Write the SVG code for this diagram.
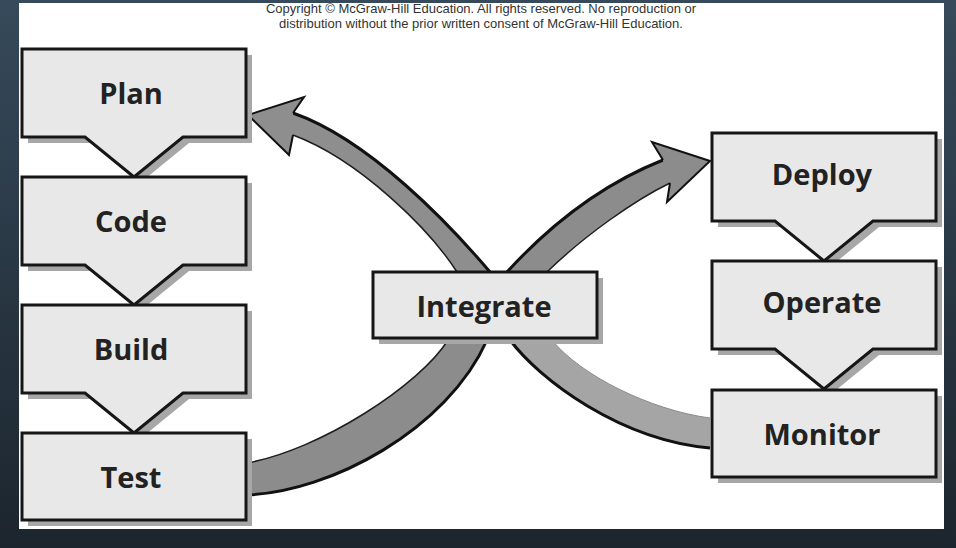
<svg xmlns="http://www.w3.org/2000/svg" width="956" height="548" viewBox="0 0 956 548">
  <defs>
    <linearGradient id="bg" x1="0" y1="0" x2="0" y2="1">
      <stop offset="0" stop-color="#364a5b"/>
      <stop offset="1" stop-color="#1c252d"/>
    </linearGradient>
    <path id="pent" d="M0,0 H224 V88 H161 L112,128 L63,88 H0 Z"/>
    <path id="rectb" d="M0,0 H224 V87 H0 Z"/>
    <style>
      .shadow { fill: #a7a7a7; }
      .box { fill: #e8e8e8; stroke: #161616; stroke-width: 3; stroke-linejoin: miter; }
      .lbl { font-family: "Open Sans", "Liberation Sans", Arial, sans-serif; font-weight: 700; font-size: 29px; fill: #222222; text-anchor: middle; }
      .copy { font-family: "Liberation Sans", Arial, sans-serif; font-size: 13px; fill: #333333; text-anchor: middle; }
      .shaft { stroke: none; }
      .edgeThick { fill: none; stroke: #111111; stroke-width: 3; stroke-linejoin: round; }
      .edgeThin { fill: none; stroke: #1e1e1e; stroke-width: 1.5; stroke-linejoin: round; }
      .head { stroke: #111111; stroke-width: 2; stroke-linejoin: miter; }
    </style>
  </defs>

  <rect x="0" y="0" width="956" height="548" fill="url(#bg)"/>
  <rect x="19" y="3" width="925" height="526" fill="#ffffff"/>

  <g id="copyright">
    <text class="copy" x="481" y="12.5">Copyright © McGraw-Hill Education. All rights reserved. No reproduction or</text>
    <text class="copy" x="481" y="28">distribution without the prior written consent of McGraw-Hill Education.</text>
  </g>

  <g id="connectors">
    <!-- Arrow A: Test to Deploy -->
    <g id="arrow-test-deploy">
      <path class="shaft" fill="#8c8c8c" d="M247,463 C320,450 420,385 448,340 L507,272 C550,225 600,185 663,160 L652,142 L710,161 L667,202 L670,183 C635,200 585,235 547,272 L487,340 C447,430 330,492 247,495 Z"/>
      <path class="edgeThin" d="M247,463 C320,450 420,385 448,340 L507,272"/>
      <path class="edgeThick" d="M507,272 C550,225 600,185 663,160"/>
      <path class="edgeThin" d="M670,183 C635,200 585,235 547,272"/>
      <path class="edgeThick" d="M487,340 C447,430 330,492 247,495"/>
      <path class="head" fill="#8c8c8c" d="M663,160 L652,142 L710,161 L667,202 L670,183"/>
    </g>
    <!-- Arrow B: Monitor to Plan -->
    <g id="arrow-monitor-plan">
      <path class="shaft" fill="#a5a5a5" d="M710,418 C650,410 580,375 552,340 L500,290 L467,290 L510,340 C540,380 620,440 710,448 Z"/>
      <path class="shaft" fill="#8e8e8e" d="M510,340 L457,272 C430,230 360,160 293,135 L289,155 L248,115 L304,97 L293,113 C370,140 450,225 490,272 L552,340 Z"/>
      <path fill="none" stroke="#8a8a8a" stroke-width="1" d="M710,418 C650,410 580,375 552,340"/>
      <path class="edgeThick" d="M710,448 C620,440 540,380 510,340"/>
      <path class="edgeThin" d="M457,272 C430,230 360,160 293,135"/>
      <path class="edgeThick" d="M293,113 C370,140 450,225 490,272"/>
      <path class="head" fill="#8e8e8e" d="M293,135 L289,155 L248,115 L304,97 L293,113"/>
    </g>
  </g>

  <g id="plan">
    <use href="#pent" class="shadow" x="28" y="55"/>
    <use href="#pent" class="box" x="22" y="49"/>
    <text class="lbl" x="131" y="104">Plan</text>
  </g>
  <g id="code">
    <use href="#pent" class="shadow" x="28" y="183"/>
    <use href="#pent" class="box" x="22" y="177"/>
    <text class="lbl" x="131" y="232">Code</text>
  </g>
  <g id="build">
    <use href="#pent" class="shadow" x="28" y="311"/>
    <use href="#pent" class="box" x="22" y="305"/>
    <text class="lbl" x="131" y="360">Build</text>
  </g>
  <g id="test">
    <use href="#rectb" class="shadow" x="28" y="439"/>
    <use href="#rectb" class="box" x="22" y="433"/>
    <text class="lbl" x="131" y="488">Test</text>
  </g>

  <g id="deploy">
    <use href="#pent" class="shadow" x="718" y="139"/>
    <use href="#pent" class="box" x="712" y="133"/>
    <text class="lbl" x="822" y="185">Deploy</text>
  </g>
  <g id="operate">
    <use href="#pent" class="shadow" x="718" y="267"/>
    <use href="#pent" class="box" x="712" y="261"/>
    <text class="lbl" x="822" y="313">Operate</text>
  </g>
  <g id="monitor">
    <use href="#rectb" class="shadow" x="718" y="396"/>
    <use href="#rectb" class="box" x="712" y="390"/>
    <text class="lbl" x="822" y="445">Monitor</text>
  </g>

  <g id="integrate">
    <rect class="shadow" x="379" y="278" width="224" height="66"/>
    <rect class="box" x="373" y="272" width="224" height="66"/>
    <text class="lbl" x="484" y="317">Integrate</text>
  </g>
</svg>
